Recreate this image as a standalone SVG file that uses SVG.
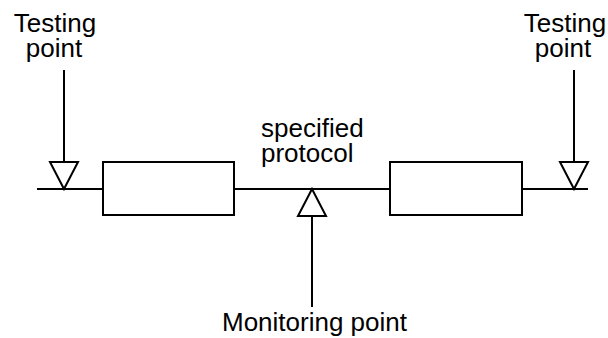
<svg xmlns="http://www.w3.org/2000/svg" width="608" height="338" viewBox="0 0 608 338">
<style>
.ln{stroke:#000;stroke-width:2;fill:none}
.tri{stroke:#000;stroke-width:2;fill:#fff;stroke-linejoin:miter}
.box{stroke:#000;stroke-width:2;fill:#fff}
text{font-family:"Liberation Sans",Arial,sans-serif;font-size:26px;fill:#000}
</style>
<rect width="608" height="338" fill="#fff"/>
<g id="connectors">
<line class="ln" x1="37" y1="189" x2="103" y2="189"/>
<line class="ln" x1="234" y1="189" x2="390" y2="189"/>
<line class="ln" x1="522" y1="189" x2="588" y2="189"/>
<line class="ln" x1="64" y1="70" x2="64" y2="162"/>
<line class="ln" x1="574" y1="70" x2="574" y2="162"/>
<line class="ln" x1="312" y1="216" x2="312" y2="307"/>
</g>
<g id="box1"><rect class="box" x="103" y="162" width="131" height="53"/></g>
<g id="box2"><rect class="box" x="390" y="162" width="132" height="53"/></g>
<g id="testing-left">
<polygon class="tri" points="50,162 78,162 64,189"/>
<text x="55" y="32" text-anchor="middle">Testing</text>
<text x="54" y="57" text-anchor="middle">point</text>
</g>
<g id="testing-right">
<polygon class="tri" points="560,162 588,162 574,189"/>
<text x="565" y="32" text-anchor="middle">Testing</text>
<text x="563" y="57" text-anchor="middle">point</text>
</g>
<g id="monitoring">
<polygon class="tri" points="312,189 326,216 298,216"/>
<text x="314.5" y="331" text-anchor="middle">Monitoring point</text>
</g>
<g id="protocol-label">
<text x="261" y="137">specified</text>
<text x="261" y="162">protocol</text>
</g>
</svg>
